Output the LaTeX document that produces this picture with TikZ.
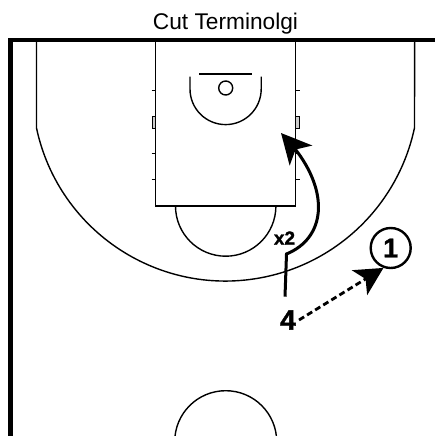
\documentclass[tikz,border=0pt]{standalone}
\usepackage{fontspec}
\setmainfont{Liberation Sans}[BoldFeatures={FakeBold=1.3}]
\usetikzlibrary{arrows.meta,bending}
\tikzset{
  courtline/.style={draw=black,line width=1.4pt},
  courtframe/.style={draw=black,line width=4.2pt,line cap=butt},
  markbox/.style={draw=black,fill=black!20,line width=0.8pt},
  cutline/.style={draw=black,line width=3pt,-{Stealth[length=30pt,width=30pt,inset=8pt,flex=1]}},
  passline/.style={draw=black,line width=2.8pt,dash pattern=on 6pt off 3.5pt,-{Stealth[length=28pt,width=29pt,inset=7pt]}},
  titletext/.style={inner sep=0pt,font=\fontsize{22.7}{24}\selectfont},
  playertext/.style={inner sep=0pt,font=\fontsize{28}{30}\selectfont\bfseries},
  playerring/.style={circle,draw=black,line width=2.4pt,minimum size=40pt,inner sep=0pt,font=\fontsize{27}{29}\selectfont\bfseries},
  defendertext/.style={inner sep=0pt,font=\fontsize{19}{21}\selectfont\bfseries}
}
\begin{document}
\begin{tikzpicture}[x=1pt,y=-1pt]
\useasboundingbox (0,0) rectangle (435,436);
% three-point line
\draw[courtline] (36.5,40) -- (36.5,128) arc[start angle=168,end angle=12,radius=193.2] -- (414.7,40);
% lane
\draw[courtline,fill=white] (155.3,40) rectangle (295.7,206);
% free throw semicircle
\draw[courtline] (175.5,206) arc[start angle=180,end angle=0,radius=50.2];
% restricted arc, backboard, hoop
\draw[courtline] (190,76.5) -- (190,89) arc[start angle=180,end angle=0,radius=35.6] -- (261.2,76.5);
\draw[courtline] (199,74) -- (252,74);
\draw[courtline] (225.7,88) circle[radius=7];
% lane ticks
\foreach \yy in {90,153,179}{
  \draw[black,line width=0.9pt] (151.5,\yy) -- (155.3,\yy);
  \draw[black,line width=0.9pt] (295.7,\yy) -- (299.5,\yy);
}
\draw[markbox] (152,116) rectangle (155.3,128);
\draw[markbox] (295.7,116) rectangle (299,128);
% centre circle
\draw[courtline] (174.7,441.7) arc[start angle=180,end angle=360,radius=51];
% frame
\draw[courtframe] (10.5,436) -- (10.5,40) -- (435,40);
% title and labels
\node[titletext] (title) at (225.5,23.5) {Cut Terminolgi};
\node[defendertext] (xtwo) at (284.5,238) {x2};
\node[playertext] (four) at (288,320) {4};
\node[playerring] (one) at (390.7,248) {1};
% connectors
\coordinate (cutstart) at (285,296.7);
\coordinate (cutbend) at (286.5,254);
\coordinate (cuttip) at (281,133);
\draw[cutline] (cutstart) -- (cutbend) .. controls (330,236) and (330,182) .. (cuttip);
\draw[passline] ([xshift=3pt]four.east) -- (one.250);
\end{tikzpicture}
\end{document}
